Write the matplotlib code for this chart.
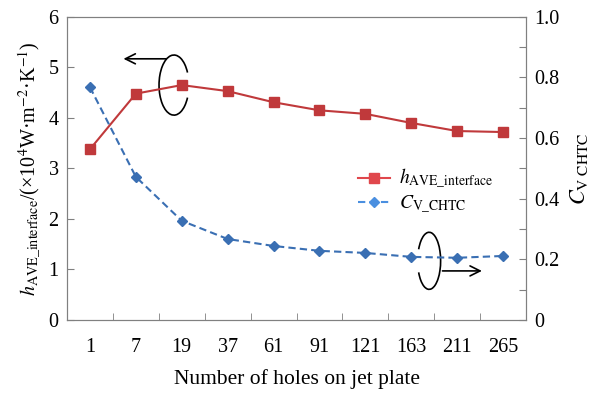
import numpy as np
import matplotlib.pyplot as plt
from matplotlib.patches import Arc
from matplotlib.lines import Line2D

plt.rcParams['font.family'] = ['Liberation Serif', 'DejaVu Serif']
plt.rcParams['mathtext.fontset'] = 'stix'

holes = ['1', '7', '19', '37', '61', '91', '121', '163', '211', '265']
h_ave = [3.38, 4.48, 4.65, 4.53, 4.31, 4.15, 4.08, 3.90, 3.74, 3.72]
c_v = [0.768, 0.472, 0.327, 0.267, 0.244, 0.228, 0.221, 0.208, 0.205, 0.211]

red = '#c0393b'
blue = '#3a6fb3'

fig = plt.figure(figsize=(5.93, 3.93), dpi=100)
ax = fig.add_axes([0.113, 0.186, 0.774, 0.771])
ax2 = ax.twinx()

x = np.arange(len(holes))
ax.plot(x, h_ave, color=red, lw=1.5, marker='s', ms=7, mfc=red, mec=red, zorder=3)
ax2.plot(x, c_v, color=blue, lw=1.5, ls=(0, (3.5, 2)), marker='D', ms=5,
         mfc=blue, mec=blue)

ax.set_xlim(-0.5, 9.5)
ax.set_ylim(0, 6)
ax2.set_ylim(0, 1.0)
ax.set_yticks(range(7))
ax2.set_yticks(np.arange(0, 1.01, 0.1))
ax2.set_yticklabels(['0', '', '0.2', '', '0.4', '', '0.6', '', '0.8', '', '1.0'])
ax.set_xticks(x)
ax.set_xticklabels(holes)
ax.set_xticks(np.arange(0.5, 9, 1), minor=True)
ax.tick_params(axis='x', which='major', length=0, labelsize=14.5, pad=13)
ax.tick_params(axis='x', which='minor', direction='in', length=5, color='#808080')
ax.tick_params(axis='y', direction='in', length=5, labelsize=14.5, color='#808080',
               pad=6)
ax2.tick_params(axis='y', direction='in', length=5, labelsize=14.5, color='#808080',
                pad=6)

for a in (ax, ax2):
    for s in a.spines.values():
        s.set_color('#808080')

ax.set_xlabel('Number of holes on jet plate', fontsize=15.5, labelpad=9)
ax.set_ylabel(r'$h_{\mathrm{AVE\_interface}}$/(×10$^{4}$W·m$^{-2}$·K$^{-1}$)',
              fontsize=14.5, labelpad=4)
ax2.set_ylabel(r'$C_{\mathrm{V\ CHTC}}$', fontsize=16, labelpad=6)

# rotation marks with arrows
ax.add_patch(Arc((1.83, 4.65), 0.65, 1.19, theta1=40, theta2=320, color='k', lw=1.2))
ax.annotate('', xy=(0.67, 5.17), xytext=(1.72, 5.17),
            arrowprops=dict(arrowstyle='->', color='k', lw=1.2, mutation_scale=18))
ax.add_patch(Arc((7.39, 1.17), 0.5, 1.13, theta1=-135, theta2=135, color='k', lw=1.2))
ax.annotate('', xy=(8.6, 0.97), xytext=(7.62, 0.97),
            arrowprops=dict(arrowstyle='->', color='k', lw=1.2, mutation_scale=18))

# legend uses the lighter colours seen in the reference
h1 = Line2D([], [], color='#e0474c', lw=1.5, marker='s', ms=7)
h2 = Line2D([], [], color='#4a8fe0', lw=1.5, ls=(0, (3.5, 2)), marker='D', ms=5)
fig.legend([h1, h2],
           [r'$h_{\mathrm{AVE\_interface}}$', r'$C_{\mathrm{V\_CHTC}}$'],
           loc='upper left', bbox_to_anchor=(0.575, 0.62), frameon=False,
           fontsize=14, handlelength=1.6, handletextpad=0.5, labelspacing=0.15)

fig.savefig('out.png', dpi=100)
